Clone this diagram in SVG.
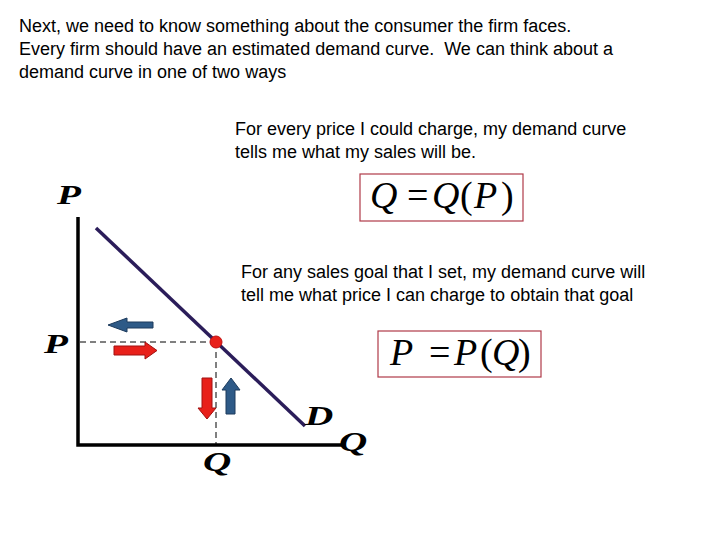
<svg xmlns="http://www.w3.org/2000/svg" width="720" height="540" viewBox="0 0 720 540">
<style>
.t{font-family:"Liberation Sans",Arial,sans-serif;font-size:18px;fill:#000}
.m{font-family:"Liberation Serif","Times New Roman",serif;font-size:38px;fill:#000}
.i{font-style:italic}
.lab{font-family:"Liberation Serif","Times New Roman",serif;font-style:italic;font-weight:bold;font-size:27px;fill:#000}
.box{fill:none;stroke:#b03a48;stroke-width:1.2}
.axis{stroke:#000;stroke-width:3.5;fill:none}
.dash{stroke:#000;stroke-width:1;stroke-dasharray:6,4;fill:none}
.red{fill:#e8201a;stroke:#a01010;stroke-width:1}
.blue{fill:#2e5a87;stroke:#1c3a5c;stroke-width:1}
</style>
<rect width="720" height="540" fill="#fff"/>
<g id="intro">
<text class="t" x="19" y="32">Next, we need to know something about the consumer the firm faces.</text>
<text class="t" x="19" y="55" xml:space="preserve">Every firm should have an estimated demand curve.  We can think about a</text>
<text class="t" x="19" y="78">demand curve in one of two ways</text>
</g>
<g id="text1">
<text class="t" x="235" y="135">For every price I could charge, my demand curve</text>
<text class="t" x="235" y="158">tells me what my sales will be.</text>
</g>
<g id="box1">
<rect class="box" x="360" y="174" width="163" height="47"/>
<text class="m" y="208"><tspan class="i" x="370">Q</tspan><tspan x="407">=</tspan><tspan class="i" x="432">Q</tspan><tspan x="460">(</tspan><tspan class="i" x="474">P</tspan><tspan x="501">)</tspan></text>
</g>
<g id="text2">
<text class="t" x="241" y="278">For any sales goal that I set, my demand curve will</text>
<text class="t" x="241" y="301">tell me what price I can charge to obtain that goal</text>
</g>
<g id="box2">
<rect class="box" x="378" y="331" width="163" height="46"/>
<text class="m" y="365"><tspan class="i" x="390">P</tspan><tspan x="429">=</tspan><tspan class="i" x="454">P</tspan><tspan x="480">(</tspan><tspan class="i" x="492">Q</tspan><tspan x="518">)</tspan></text>
</g>
<g id="graph">
<path class="axis" d="M78,217 V445 H342"/>
<line class="dash" x1="80" y1="342" x2="216" y2="342"/>
<line class="dash" x1="216" y1="342" x2="216" y2="445"/>
<line x1="96" y1="228" x2="305" y2="426" stroke="#2b1d5a" stroke-width="3.5"/>
<circle cx="216" cy="342" r="6" fill="#e8201a" stroke="#c01010" stroke-width="1"/>
<text class="lab" transform="translate(57,204) scale(1.45,1)">P</text>
<text class="lab" transform="translate(44,353) scale(1.45,1)">P</text>
<text class="lab" transform="translate(203,471) scale(1.45,1)">Q</text>
<text class="lab" transform="translate(305,425) scale(1.45,1)">D</text>
<text class="lab" transform="translate(339,451) scale(1.45,1)">Q</text>
</g>
<g id="arrows">
<path class="blue" d="M153,322 H127 V318 L108,325 L127,332 V328 H153 Z"/>
<path class="red" d="M114,346 H145 V342 L157,350.5 L145,359 V355 H114 Z"/>
<path class="red" d="M202,378 H212 V408 H216 L207,419 L198,408 H202 Z"/>
<path class="blue" d="M226,414 V390 H222 L231,378 L240,390 H235 V414 Z"/>
</g>
</svg>
